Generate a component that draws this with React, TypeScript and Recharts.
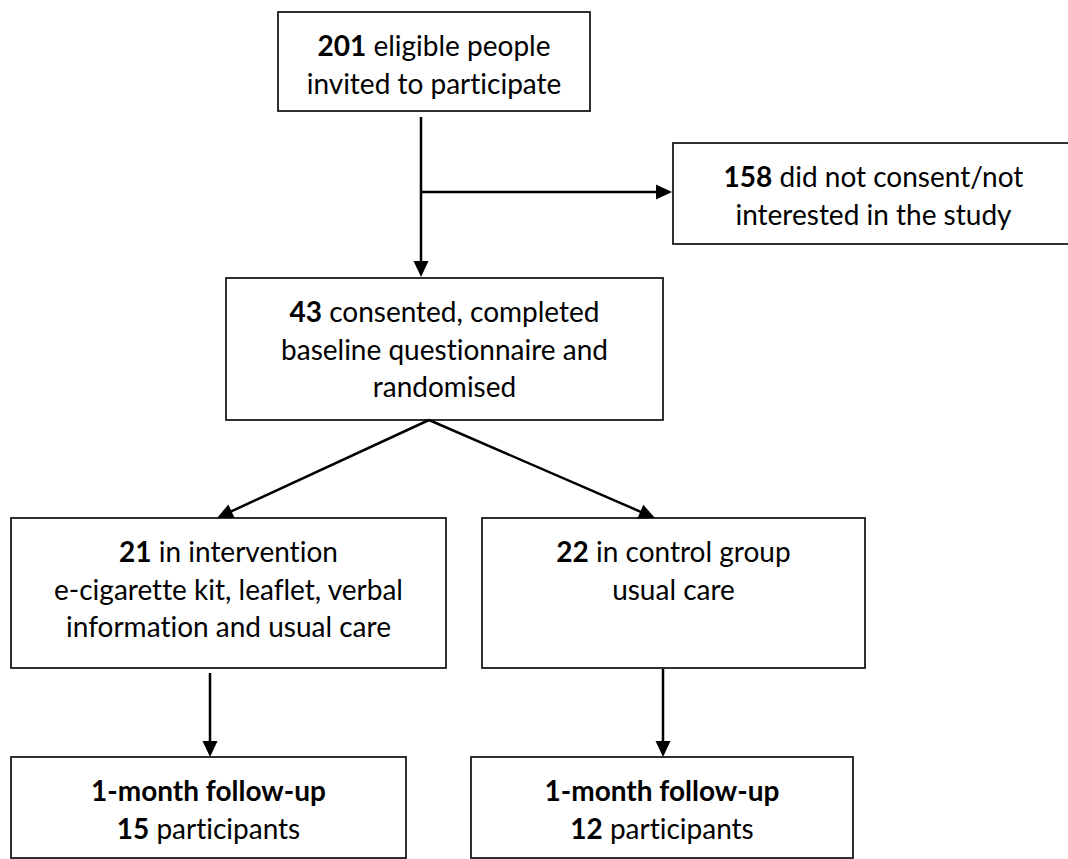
import { ComposedChart, XAxis, YAxis, ReferenceArea, ReferenceLine } from 'recharts';

// flow counts at each stage
const stageCounts = [201, 158, 43, 21, 22, 15, 12];

const boxLines = [
  [`**${stageCounts[0]}** eligible people`, 'invited to participate'],
  [`**${stageCounts[1]}** did not consent/not`, 'interested in the study'],
  [`**${stageCounts[2]}** consented, completed`, 'baseline questionnaire and', 'randomised'],
  [`**${stageCounts[3]}** in intervention`, 'e-cigarette kit, leaflet, verbal', 'information and usual care'],
  [`**${stageCounts[4]}** in control group`, 'usual care'],
  ['**1-month follow-up**', `**${stageCounts[5]}** participants`],
  ['**1-month follow-up**', `**${stageCounts[6]}** participants`],
];

// layout in diagram units: [x1, x2, y1, y2]
const boxLayout = [
  [278, 590, 12, 111],
  [673, 1074, 143, 244],
  [226, 663, 278, 420],
  [11, 446, 518, 668],
  [482, 865, 518, 668],
  [11, 406, 757, 858],
  [471, 853, 757, 858],
];

// arrows: [fromX, fromY, toX, toY], arrowhead at "to"
const arrows = [
  [421, 117, 421, 277],
  [421, 192, 672, 192],
  [429, 420, 217, 518],
  [429, 420, 655, 518],
  [210, 673, 210, 757],
  [663, 669, 663, 757],
];

const W = 1068;
const H = 859;
const FONT = 'Lato, "Noto Sans", sans-serif';

function Rich({ x, y, str }: { x: number; y: number; str: string }) {
  const parts = str.split('**');
  return (
    <text
      x={x}
      y={y}
      textAnchor="middle"
      dominantBaseline="central"
      fontFamily={FONT}
      fontSize={28}
      fill="#000"
      style={{ fontVariantLigatures: 'none', fontFeatureSettings: '"liga" 0, "dlig" 0' }}
    >
      {parts.map((p, i) =>
        p ? (
          <tspan key={i} fontWeight={i % 2 === 1 ? 700 : 400}>
            {p}
          </tspan>
        ) : null
      )}
    </text>
  );
}

function makeBox(lines: string[]) {
  return (props: any) => {
    const { x, y, width, height } = props;
    return (
      <g>
        <rect x={x} y={y} width={width} height={height} fill="#fff" stroke="#1a1a1a" strokeWidth={1.8} />
        {lines.map((l, i) => (
          <Rich key={i} x={x + width / 2} y={y + 33 + i * 37.5} str={l} />
        ))}
      </g>
    );
  };
}

function ArrowShape(props: any) {
  const { x1, y1, x2, y2 } = props;
  const ang = Math.atan2(y2 - y1, x2 - x1);
  const len = 16;
  const half = 7.5;
  const bx = x2 - len * Math.cos(ang);
  const by = y2 - len * Math.sin(ang);
  const px = -Math.sin(ang) * half;
  const py = Math.cos(ang) * half;
  return (
    <g>
      <line x1={x1} y1={y1} x2={bx + Math.cos(ang)} y2={by + Math.sin(ang)} stroke="#000" strokeWidth={2.5} />
      <polygon points={`${x2},${y2} ${bx + px},${by + py} ${bx - px},${by - py}`} fill="#000" />
    </g>
  );
}

export default function App() {
  return (
    <div style={{ position: 'absolute', left: 0, top: 0, width: W, height: H, background: '#fff', overflow: 'hidden' }}>
      <ComposedChart width={W} height={H} data={[]} margin={{ top: 0, right: 0, bottom: 0, left: 0 }}>
        <XAxis type="number" dataKey="x" domain={[0, W]} hide allowDataOverflow />
        <YAxis type="number" dataKey="y" domain={[0, H]} reversed hide allowDataOverflow />
        {arrows.map((a, i) => (
          <ReferenceLine
            key={`a${i}`}
            segment={[
              { x: a[0], y: a[1] },
              { x: a[2], y: a[3] },
            ]}
            ifOverflow="visible"
            shape={ArrowShape}
          />
        ))}
        {boxLayout.map((b, i) => (
          <ReferenceArea
            key={`b${i}`}
            x1={b[0]}
            x2={b[1]}
            y1={b[2]}
            y2={b[3]}
            ifOverflow="visible"
            shape={makeBox(boxLines[i])}
          />
        ))}
      </ComposedChart>
    </div>
  );
}
